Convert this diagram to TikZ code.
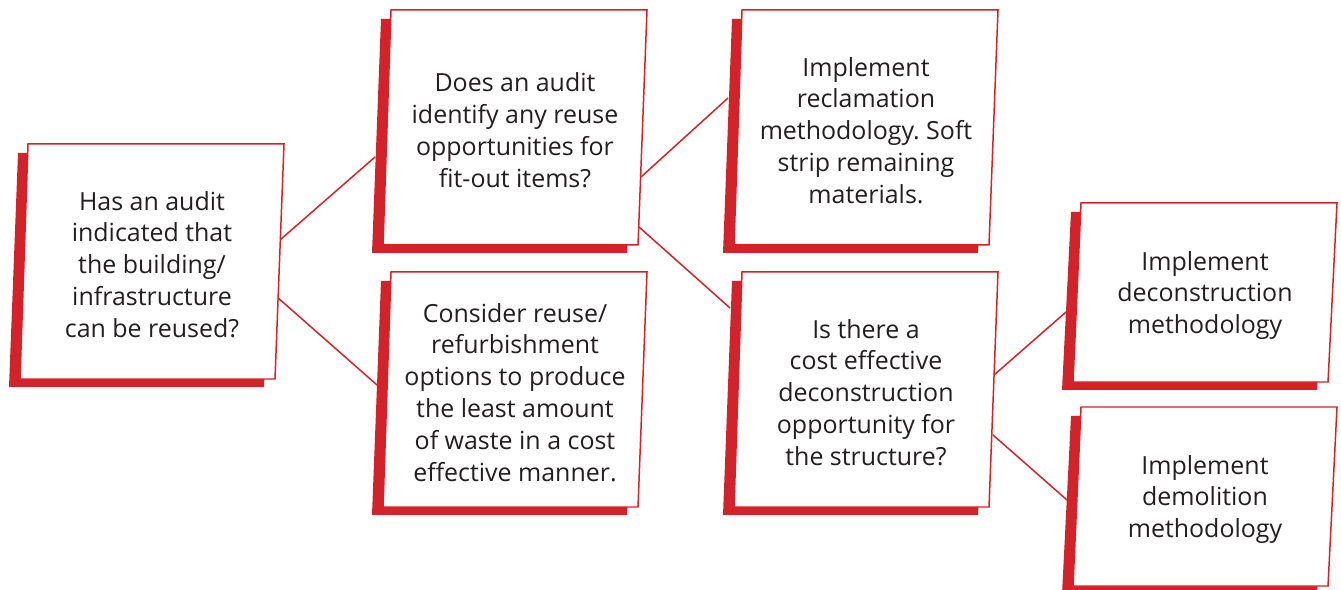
\documentclass[tikz,border=0pt]{standalone}
\usepackage{fontspec}
\setmainfont{Open Sans}
\frenchspacing
\usetikzlibrary{calc}
\definecolor{brandred}{HTML}{D2232A}
\definecolor{ink}{HTML}{231F20}
\pgfdeclarelayer{bg}
\pgfsetlayers{bg,main}
\tikzset{
  boxshadow/.style={fill=brandred},
  boxface/.style={fill=white, draw=brandred, line width=0.85pt, line join=miter},
  boxtext/.style={align=center, text=ink, inner sep=0pt, font=\fontsize{14.2}{18.14}\selectfont},
  link/.style={draw=brandred, line width=0.85pt}
}
% name, cx, cy, height, text
\newcommand\flowbox[5]{%
  \fill[boxshadow] ({#2-134},{#3-#4/2+9}) -- ({#2+122},{#3-#4/2+9}) -- ({#2+112},{#3+#4/2+8}) -- ({#2-143},{#3+#4/2+8}) -- cycle;
  \filldraw[boxface] ({#2-124},{#3-#4/2}) -- ({#2+132},{#3-#4/2}) -- ({#2+123},{#3+#4/2}) -- ({#2-132},{#3+#4/2}) -- cycle;
  \node[boxtext] (#1) at ({#2},{#3+3}) {#5};
}
\begin{document}
\begin{tikzpicture}[x=0.02cm, y=-0.02cm]
\useasboundingbox (0,0) rectangle (1341,590);
\flowbox{b1}{152}{261.5}{235}{Has an audit\\indicated that\\the building/\\infrastructure\\can be reused?}
\flowbox{b2}{515}{127.5}{235}{Does an audit\\identify any reuse\\opportunities for\\fit-out items?}
\flowbox{b3}{515}{389.5}{235}{Consider reuse/\\refurbishment\\options to produce\\the least amount\\of waste in a cost\\effective manner.}
\flowbox{b4}{866}{127.5}{235}{Implement\\reclamation\\methodology. Soft\\strip remaining\\materials.}
\flowbox{b5}{866}{389.5}{235}{Is there a\\cost effective\\deconstruction\\opportunity for\\the structure?}
\flowbox{b6}{1205}{292.5}{179}{Implement\\deconstruction\\methodology}
\flowbox{b7}{1205}{496.5}{179}{Implement\\demolition\\methodology}
\begin{pgfonlayer}{bg}
\draw[link] ($(b1)+(128,-24.5)$) -- ($(b2)+(-140,26.5)$);
\draw[link] ($(b1)+(125,32.5)$) -- ($(b3)+(-138,-7.5)$);
\draw[link] ($(b2)+(126,46.5)$) -- ($(b4)+(-138,-32.5)$);
\draw[link] ($(b2)+(124,96.5)$) -- ($(b5)+(-136,-84.5)$);
\draw[link] ($(b5)+(128,-17.5)$) -- ($(b6)+(-139,16.5)$);
\draw[link] ($(b5)+(127,42.5)$) -- ($(b7)+(-138,0.5)$);
\end{pgfonlayer}
\end{tikzpicture}
\end{document}
